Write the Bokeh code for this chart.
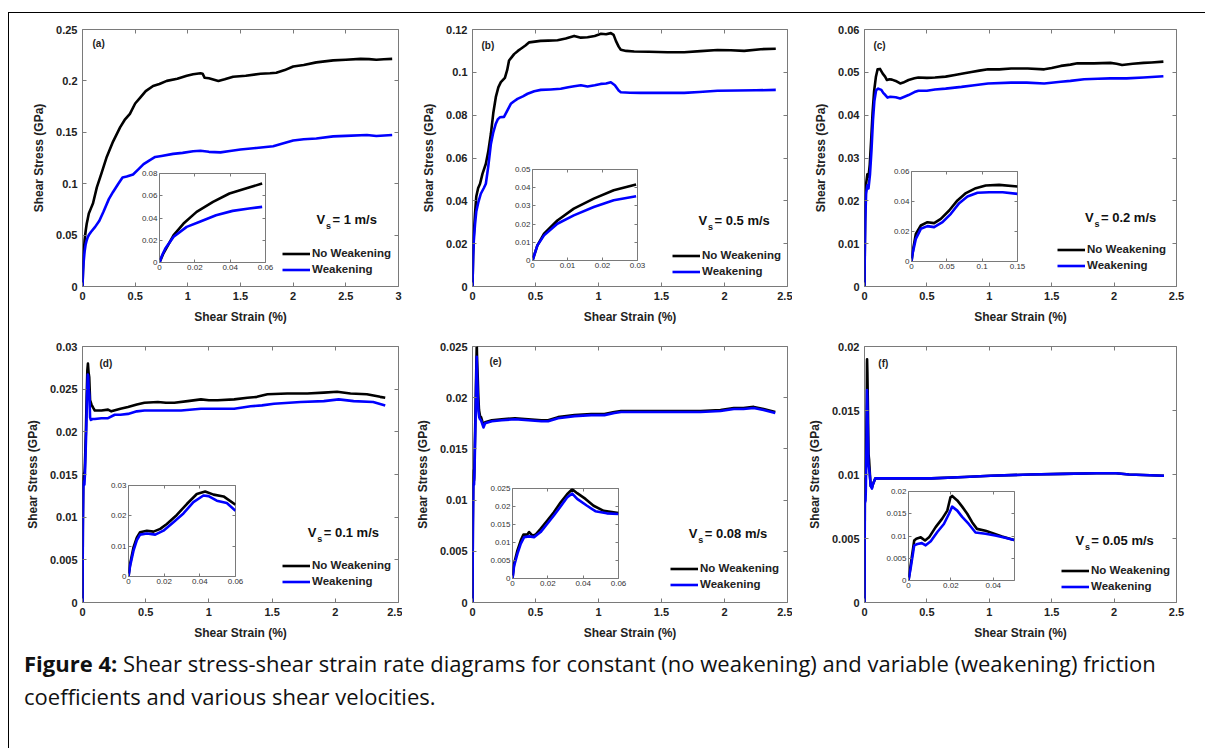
from bokeh.plotting import figure
from bokeh.models import (GridBox, Div, Range1d, FixedTicker, LinearAxis,
                          CustomJSTickFormatter, Legend, LegendItem, Label)
from bokeh.embed import file_html
from bokeh.resources import INLINE

# ---------------- data ----------------
A_NW_X = [0, 0.005, 0.01, 0.02, 0.03, 0.04, 0.05, 0.06, 0.08, 0.1, 0.136, 0.18, 0.23, 0.29, 0.358, 0.4, 0.45, 0.5, 0.55, 0.6, 0.67, 0.73, 0.8, 0.9, 0.99, 1.05, 1.12, 1.14, 1.16, 1.2, 1.29, 1.35, 1.43, 1.55, 1.69, 1.78, 1.84, 1.92, 2.0, 2.1, 2.22, 2.3, 2.38, 2.5, 2.64, 2.72, 2.79, 2.86, 2.94]
A_NW_Y = [0, 0.017, 0.03, 0.045, 0.054, 0.061, 0.066, 0.071, 0.076, 0.081, 0.0964, 0.11, 0.126, 0.141, 0.155, 0.162, 0.168, 0.178, 0.184, 0.19, 0.195, 0.197, 0.2, 0.202, 0.205, 0.2065, 0.2075, 0.207, 0.203, 0.2025, 0.2, 0.2015, 0.204, 0.205, 0.207, 0.2075, 0.208, 0.2105, 0.214, 0.2155, 0.218, 0.219, 0.22, 0.2205, 0.2214, 0.2212, 0.2205, 0.221, 0.2214]
A_W_X = [0, 0.005, 0.01, 0.02, 0.03, 0.04, 0.05, 0.06, 0.08, 0.12, 0.16, 0.2, 0.25, 0.29, 0.34, 0.38, 0.42, 0.48, 0.53, 0.58, 0.64, 0.69, 0.75, 0.86, 0.95, 1.05, 1.12, 1.2, 1.31, 1.4, 1.5, 1.65, 1.81, 1.9, 2.0, 2.1, 2.22, 2.38, 2.5, 2.7, 2.79, 2.94]
A_W_Y = [0, 0.014, 0.023, 0.034, 0.041, 0.045, 0.048, 0.05, 0.053, 0.058, 0.064, 0.073, 0.085, 0.092, 0.1, 0.106, 0.107, 0.109, 0.114, 0.119, 0.123, 0.126, 0.127, 0.129, 0.13, 0.1315, 0.132, 0.131, 0.1305, 0.1318, 0.1332, 0.1348, 0.1365, 0.139, 0.142, 0.1433, 0.144, 0.146, 0.1465, 0.1474, 0.1464, 0.1474]
AI_NW_X = [0, 0.002, 0.0043, 0.008, 0.0136, 0.021, 0.0303, 0.0396, 0.0488, 0.0581]
AI_NW_Y = [0, 0.0075, 0.0141, 0.0246, 0.035, 0.0455, 0.0545, 0.062, 0.0665, 0.071]
AI_W_X = [0, 0.0015, 0.0033, 0.008, 0.0154, 0.0228, 0.032, 0.0414, 0.0507, 0.0581]
AI_W_Y = [0, 0.0065, 0.0126, 0.0231, 0.032, 0.0366, 0.0425, 0.0464, 0.0485, 0.05]

B_NW_X = [0, 0.005, 0.01, 0.02, 0.03, 0.045, 0.06, 0.079, 0.106, 0.125, 0.146, 0.165, 0.185, 0.205, 0.225, 0.257, 0.275, 0.29, 0.31, 0.33, 0.36, 0.384, 0.42, 0.45, 0.54, 0.6, 0.675, 0.74, 0.807, 0.86, 0.913, 0.97, 1.02, 1.06, 1.098, 1.12, 1.138, 1.16, 1.177, 1.22, 1.283, 1.4, 1.548, 1.68, 1.81, 1.944, 2.05, 2.156, 2.288, 2.407]
B_NW_Y = [0, 0.015, 0.024, 0.034, 0.042, 0.046, 0.048, 0.0526, 0.0573, 0.063, 0.0713, 0.081, 0.0884, 0.093, 0.0954, 0.0974, 0.101, 0.1055, 0.107, 0.1085, 0.11, 0.111, 0.1125, 0.114, 0.1147, 0.1148, 0.115, 0.1158, 0.117, 0.1162, 0.1164, 0.117, 0.118, 0.1178, 0.1183, 0.1175, 0.1147, 0.112, 0.1105, 0.11, 0.1097, 0.1096, 0.1094, 0.1094, 0.1099, 0.1104, 0.1103, 0.11, 0.1108, 0.111]
B_W_X = [0, 0.005, 0.01, 0.02, 0.03, 0.045, 0.066, 0.09, 0.106, 0.125, 0.146, 0.165, 0.185, 0.2, 0.217, 0.25, 0.275, 0.304, 0.33, 0.357, 0.4, 0.437, 0.49, 0.542, 0.62, 0.7, 0.76, 0.807, 0.86, 0.913, 0.97, 1.018, 1.06, 1.098, 1.13, 1.16, 1.177, 1.25, 1.336, 1.5, 1.68, 1.8, 1.944, 2.1, 2.25, 2.407]
B_W_Y = [0, 0.014, 0.021, 0.029, 0.035, 0.039, 0.0433, 0.046, 0.048, 0.056, 0.0666, 0.072, 0.076, 0.078, 0.079, 0.0792, 0.082, 0.0853, 0.0865, 0.0876, 0.0888, 0.09, 0.0912, 0.0918, 0.092, 0.0923, 0.093, 0.0935, 0.094, 0.0934, 0.094, 0.0946, 0.0948, 0.0954, 0.094, 0.0915, 0.0907, 0.0905, 0.0904, 0.0904, 0.0904, 0.0908, 0.0914, 0.0915, 0.0916, 0.0918]
BI_NW_X = [0, 0.0014, 0.0033, 0.0071, 0.0118, 0.0175, 0.0232, 0.0296]
BI_NW_Y = [0, 0.0083, 0.0147, 0.022, 0.0285, 0.034, 0.0386, 0.0417]
BI_W_X = [0, 0.0014, 0.0033, 0.0071, 0.0118, 0.0175, 0.0232, 0.0296]
BI_W_Y = [0, 0.0083, 0.0138, 0.0202, 0.0248, 0.0294, 0.0331, 0.0353]

C_NW_X = [0, 0.003, 0.006, 0.013, 0.023, 0.032, 0.042, 0.053, 0.065, 0.077, 0.091, 0.105, 0.124, 0.146, 0.165, 0.18, 0.2, 0.22, 0.25, 0.286, 0.31, 0.353, 0.4, 0.432, 0.5, 0.565, 0.65, 0.724, 0.8, 0.857, 0.92, 0.99, 1.08, 1.175, 1.308, 1.44, 1.5, 1.573, 1.65, 1.706, 1.838, 1.97, 2.02, 2.064, 2.15, 2.236, 2.3, 2.395]
C_NW_Y = [0, 0.011, 0.0184, 0.024, 0.0262, 0.0256, 0.0284, 0.034, 0.0407, 0.0456, 0.0489, 0.0507, 0.0508, 0.0497, 0.049, 0.0482, 0.0484, 0.0483, 0.048, 0.0474, 0.0476, 0.0482, 0.0486, 0.0488, 0.0487, 0.0488, 0.049, 0.0494, 0.0498, 0.0501, 0.0504, 0.0507, 0.0507, 0.0509, 0.0509, 0.0507, 0.051, 0.0515, 0.0518, 0.0521, 0.0521, 0.0522, 0.052, 0.0517, 0.052, 0.0522, 0.0523, 0.0525]
C_W_X = [0, 0.0014, 0.006, 0.013, 0.023, 0.032, 0.044, 0.056, 0.068, 0.079, 0.093, 0.11, 0.135, 0.15, 0.167, 0.185, 0.207, 0.25, 0.286, 0.32, 0.353, 0.4, 0.432, 0.5, 0.565, 0.65, 0.777, 0.88, 0.99, 1.175, 1.3, 1.44, 1.573, 1.65, 1.76, 1.87, 1.97, 2.1, 2.236, 2.3, 2.395]
C_W_Y = [0, 0.0051, 0.0151, 0.0218, 0.0236, 0.0229, 0.0262, 0.0318, 0.0389, 0.0433, 0.0458, 0.0462, 0.0459, 0.0452, 0.0447, 0.0441, 0.0443, 0.0442, 0.0439, 0.0443, 0.0447, 0.0454, 0.0457, 0.0457, 0.046, 0.0462, 0.0466, 0.047, 0.0474, 0.0476, 0.0476, 0.0474, 0.0478, 0.048, 0.0484, 0.0485, 0.0486, 0.0486, 0.0488, 0.0489, 0.0491]
CI_NW_X = [0, 0.0024, 0.0061, 0.0132, 0.0226, 0.032, 0.0415, 0.0533, 0.065, 0.077, 0.091, 0.105, 0.124, 0.15]
CI_NW_Y = [0, 0.0084, 0.0184, 0.024, 0.0262, 0.0256, 0.0284, 0.034, 0.0407, 0.0456, 0.0489, 0.0507, 0.0511, 0.05]
CI_W_X = [0, 0.0014, 0.0061, 0.0132, 0.0226, 0.032, 0.0439, 0.0557, 0.0675, 0.0792, 0.0934, 0.11, 0.129, 0.15]
CI_W_Y = [0, 0.0051, 0.0151, 0.0218, 0.0236, 0.0229, 0.0262, 0.0318, 0.0389, 0.0433, 0.0458, 0.0462, 0.0462, 0.0451]

D_NW_X = [0, 0.0028, 0.0065, 0.0103, 0.014, 0.0178, 0.0215, 0.0271, 0.0327, 0.0383, 0.043, 0.0477, 0.0533, 0.06, 0.071, 0.085, 0.097, 0.15, 0.202, 0.228, 0.3, 0.36, 0.43, 0.49, 0.596, 0.66, 0.727, 0.832, 0.937, 1.0, 1.069, 1.2, 1.305, 1.38, 1.463, 1.62, 1.778, 1.909, 2.014, 2.12, 2.25, 2.355, 2.395]
D_NW_Y = [0, 0.0096, 0.0146, 0.0151, 0.0148, 0.0157, 0.0173, 0.0203, 0.0239, 0.0272, 0.028, 0.027, 0.0264, 0.0237, 0.0232, 0.0228, 0.0225, 0.0225, 0.0226, 0.0224, 0.0227, 0.0229, 0.0232, 0.0234, 0.0235, 0.0234, 0.0234, 0.0236, 0.0238, 0.0237, 0.0237, 0.0238, 0.024, 0.0241, 0.0244, 0.0245, 0.0245, 0.0246, 0.0247, 0.0245, 0.0244, 0.0241, 0.024]
D_W_X = [0, 0.0028, 0.0065, 0.0103, 0.015, 0.0196, 0.0252, 0.0308, 0.0364, 0.042, 0.0449, 0.0495, 0.0551, 0.06, 0.066, 0.08, 0.097, 0.15, 0.202, 0.255, 0.3, 0.36, 0.43, 0.49, 0.622, 0.78, 0.937, 1.2, 1.33, 1.42, 1.515, 1.725, 1.909, 2.027, 2.145, 2.3, 2.395]
D_W_Y = [0, 0.0085, 0.0138, 0.0142, 0.0138, 0.0151, 0.0179, 0.0208, 0.0245, 0.0267, 0.0265, 0.025, 0.0242, 0.0217, 0.0214, 0.0215, 0.0215, 0.0216, 0.0216, 0.022, 0.022, 0.0221, 0.0224, 0.0225, 0.0225, 0.0225, 0.0227, 0.0227, 0.023, 0.0231, 0.0233, 0.0235, 0.0236, 0.0238, 0.0236, 0.0235, 0.0231]
DI_NW_X = [0, 0.0009, 0.0028, 0.0047, 0.0065, 0.0103, 0.014, 0.0178, 0.0215, 0.0271, 0.0327, 0.0383, 0.043, 0.0477, 0.0533, 0.06]
DI_NW_Y = [0, 0.0041, 0.0096, 0.0129, 0.0146, 0.0151, 0.0148, 0.0157, 0.0173, 0.0203, 0.0239, 0.0272, 0.028, 0.027, 0.0264, 0.0237]
DI_W_X = [0, 0.0009, 0.0028, 0.0047, 0.0065, 0.0103, 0.015, 0.0196, 0.0252, 0.0308, 0.0364, 0.042, 0.0449, 0.0495, 0.0551, 0.06]
DI_W_Y = [0, 0.0035, 0.0085, 0.012, 0.0138, 0.0142, 0.0138, 0.0151, 0.0179, 0.0208, 0.0245, 0.0267, 0.0265, 0.025, 0.0242, 0.0217]

E_NW_X = [0, 0.0028, 0.0062, 0.0094, 0.0113, 0.0131, 0.0159, 0.0197, 0.0234, 0.0272, 0.0309, 0.0338, 0.0366, 0.0413, 0.0459, 0.0516, 0.06, 0.068, 0.087, 0.1, 0.153, 0.232, 0.337, 0.442, 0.547, 0.6, 0.679, 0.81, 0.942, 1.047, 1.126, 1.179, 1.25, 1.337, 1.468, 1.626, 1.81, 1.968, 2.074, 2.15, 2.232, 2.31, 2.403]
E_NW_Y = [0, 0.0078, 0.0122, 0.0129, 0.0119, 0.0122, 0.0138, 0.0161, 0.0184, 0.0211, 0.0234, 0.0252, 0.0237, 0.0221, 0.0202, 0.0188, 0.0182, 0.0181, 0.0173, 0.0176, 0.0178, 0.0179, 0.018, 0.0179, 0.0178, 0.0178, 0.0181, 0.0183, 0.0184, 0.0184, 0.0186, 0.0187, 0.0187, 0.0187, 0.0187, 0.0187, 0.0187, 0.0188, 0.019, 0.019, 0.0191, 0.0189, 0.0186]
E_W_X = [0, 0.0028, 0.0066, 0.0094, 0.0122, 0.0159, 0.0197, 0.0234, 0.0272, 0.0309, 0.0338, 0.0366, 0.0422, 0.0469, 0.0534, 0.06, 0.068, 0.087, 0.1, 0.153, 0.232, 0.337, 0.442, 0.547, 0.6, 0.679, 0.81, 0.942, 1.047, 1.126, 1.179, 1.25, 1.337, 1.468, 1.626, 1.81, 1.968, 2.074, 2.15, 2.232, 2.31, 2.403]
E_W_Y = [0, 0.0069, 0.0115, 0.0117, 0.0115, 0.0129, 0.0152, 0.0175, 0.02, 0.0225, 0.024, 0.0221, 0.0202, 0.0187, 0.0181, 0.0179, 0.0178, 0.0171, 0.0175, 0.0177, 0.0178, 0.0179, 0.0178, 0.0177, 0.0177, 0.018, 0.0182, 0.0183, 0.0183, 0.0185, 0.0186, 0.0186, 0.0186, 0.0186, 0.0186, 0.0186, 0.0187, 0.0189, 0.0189, 0.019, 0.0188, 0.0185]
EI_NW_X = [0, 0.0009, 0.0028, 0.0047, 0.0062, 0.0084, 0.0094, 0.0113, 0.0131, 0.0159, 0.0197, 0.0234, 0.0272, 0.0309, 0.0338, 0.0366, 0.0413, 0.0459, 0.0516, 0.06]
EI_NW_Y = [0, 0.0041, 0.0078, 0.0106, 0.0122, 0.0122, 0.0129, 0.0119, 0.0122, 0.0138, 0.0161, 0.0184, 0.0211, 0.0234, 0.0248, 0.0237, 0.0221, 0.0202, 0.0188, 0.0182]
EI_W_X = [0, 0.0009, 0.0028, 0.0047, 0.0066, 0.0094, 0.0122, 0.0159, 0.0197, 0.0234, 0.0272, 0.0309, 0.0338, 0.0366, 0.0422, 0.0469, 0.0534, 0.06]
EI_W_Y = [0, 0.0035, 0.0069, 0.0097, 0.0115, 0.0117, 0.0115, 0.0129, 0.0152, 0.0175, 0.02, 0.0225, 0.0236, 0.0221, 0.0202, 0.0187, 0.0181, 0.0179]

F_NW_X = [0, 0.0011, 0.0027, 0.0037, 0.0058, 0.0078, 0.0097, 0.0128, 0.0159, 0.0183, 0.0198, 0.0206, 0.023, 0.0253, 0.0277, 0.03, 0.0323, 0.0363, 0.0394, 0.0441, 0.0498, 0.06, 0.074, 0.087, 0.114, 0.272, 0.536, 0.8, 1.01, 1.33, 1.59, 1.86, 2.016, 2.12, 2.4]
F_NW_Y = [0, 0.0037, 0.009, 0.0094, 0.0097, 0.009, 0.0097, 0.012, 0.0139, 0.0157, 0.0187, 0.019, 0.018, 0.0166, 0.015, 0.0131, 0.0116, 0.0112, 0.0107, 0.0099, 0.0091, 0.009, 0.0094, 0.0097, 0.0097, 0.0097, 0.0097, 0.0098, 0.0099, 0.01, 0.01005, 0.0101, 0.0101, 0.01, 0.0099]
F_W_X = [0, 0.0011, 0.0027, 0.0042, 0.0063, 0.0081, 0.0105, 0.0136, 0.0167, 0.0191, 0.0206, 0.023, 0.0253, 0.0284, 0.0316, 0.0363, 0.0409, 0.0456, 0.0498, 0.06, 0.066, 0.087, 0.114, 0.272, 0.536, 0.8, 1.01, 1.33, 1.59, 1.86, 2.016, 2.12, 2.4]
F_W_Y = [0, 0.003, 0.0079, 0.0082, 0.0084, 0.0079, 0.0088, 0.0109, 0.0127, 0.015, 0.0166, 0.0157, 0.0143, 0.0127, 0.0108, 0.0105, 0.0101, 0.0096, 0.0091, 0.0089, 0.0092, 0.0097, 0.0097, 0.0097, 0.0097, 0.0098, 0.0099, 0.01, 0.01005, 0.0101, 0.0101, 0.01, 0.0099]
FI_NW_X = [0, 0.0011, 0.0027, 0.0037, 0.0058, 0.0078, 0.0097, 0.0128, 0.0159, 0.0183, 0.0198, 0.0206, 0.023, 0.0253, 0.0277, 0.03, 0.0323, 0.0363, 0.0394, 0.0441, 0.0498]
FI_NW_Y = [0, 0.0037, 0.009, 0.0094, 0.0097, 0.009, 0.0097, 0.012, 0.0139, 0.0157, 0.0187, 0.019, 0.018, 0.0166, 0.015, 0.0131, 0.0116, 0.0112, 0.0107, 0.0099, 0.0091]
FI_W_X = [0, 0.0011, 0.0027, 0.0042, 0.0063, 0.0081, 0.0105, 0.0136, 0.0167, 0.0191, 0.0206, 0.023, 0.0253, 0.0284, 0.0316, 0.0363, 0.0409, 0.0456, 0.0498]
FI_W_Y = [0, 0.003, 0.0079, 0.0082, 0.0084, 0.0079, 0.0088, 0.0109, 0.0127, 0.015, 0.0166, 0.0157, 0.0143, 0.0127, 0.0108, 0.0105, 0.0101, 0.0096, 0.0091]

# axis ticks
X_TICKS_A = [0, 0.5, 1, 1.5, 2, 2.5, 3]
X_TICKS = [0, 0.5, 1, 1.5, 2, 2.5]
Y_TICKS_A = [0, 0.05, 0.1, 0.15, 0.2, 0.25]
Y_TICKS_B = [0, 0.02, 0.04, 0.06, 0.08, 0.1, 0.12]
Y_TICKS_C = [0, 0.01, 0.02, 0.03, 0.04, 0.05, 0.06]
Y_TICKS_D = [0, 0.005, 0.01, 0.015, 0.02, 0.025, 0.03]
Y_TICKS_E = [0, 0.005, 0.01, 0.015, 0.02, 0.025]
Y_TICKS_F = [0, 0.005, 0.01, 0.015, 0.02]
IX_TICKS_A = [0, 0.02, 0.04, 0.06]
IY_TICKS_A = [0, 0.02, 0.04, 0.06, 0.08]
IX_TICKS_B = [0, 0.01, 0.02, 0.03]
IY_TICKS_B = [0, 0.01, 0.02, 0.03, 0.04, 0.05]
IX_TICKS_C = [0, 0.05, 0.1, 0.15]
IY_TICKS_C = [0, 0.02, 0.04, 0.06]
IX_TICKS_D = [0, 0.02, 0.04, 0.06]
IY_TICKS_D = [0, 0.01, 0.02, 0.03]
IX_TICKS_E = [0, 0.02, 0.04, 0.06]
IY_TICKS_E = [0, 0.005, 0.01, 0.015, 0.02, 0.025]
IX_TICKS_F = [0, 0.02, 0.04]
IY_TICKS_F = [0, 0.005, 0.01, 0.015, 0.02]

PANEL_TAGS = ["(a)", "(b)", "(c)", "(d)", "(e)", "(f)"]
VS_TEXT = ["= 1 m/s", "= 0.5 m/s", "= 0.2 m/s", "= 0.1 m/s", "= 0.08 m/s", "= 0.05 m/s"]
SERIES = ["No Weakening", "Weakening"]
X_LABEL = "Shear Strain (%)"
Y_LABEL = "Shear Stress (GPa)"
CAPTION_BOLD = "Figure 4:"
CAPTION_LINE1 = "Shear stress-shear strain rate diagrams for constant (no weakening) and variable (weakening) friction"
CAPTION_LINE2 = "coefficients and various shear velocities."

# ---------------- layout geometry (page pixels) ----------------
FONT = "Liberation Sans"
TXT = "#222222"
FRAME = "#7a7a7a"
BLACK = "#000000"
BLUE = "#0000ff"

panels = [
    dict(outer=(10, 14, 402, 328), frame=(82, 29, 398, 286), xr=(0, 3), yr=(0, 0.25),
         xt=X_TICKS_A, yt=Y_TICKS_A, nw=(A_NW_X, A_NW_Y), w=(A_W_X, A_W_Y),
         inset=(159, 173, 265, 262), ixr=(0, 0.06), iyr=(0, 0.08), ixt=IX_TICKS_A, iyt=IY_TICKS_A,
         inw=(AI_NW_X, AI_NW_Y), iw=(AI_W_X, AI_W_Y),
         leg=(282, 269), tag=(92, 43), vs=(316, 219)),
    dict(outer=(404, 14, 792, 328), frame=(472, 29, 787, 286), xr=(0, 2.5), yr=(0, 0.12),
         xt=X_TICKS, yt=Y_TICKS_B, nw=(B_NW_X, B_NW_Y), w=(B_W_X, B_W_Y),
         inset=(532, 169, 637, 260), ixr=(0, 0.03), iyr=(0, 0.05), ixt=IX_TICKS_B, iyt=IY_TICKS_B,
         inw=(BI_NW_X, BI_NW_Y), iw=(BI_W_X, BI_W_Y),
         leg=(672, 271), tag=(481, 45), vs=(698, 220)),
    dict(outer=(794, 14, 1196, 328), frame=(864, 29, 1178, 287), xr=(0, 2.5), yr=(0, 0.06),
         xt=X_TICKS, yt=Y_TICKS_C, nw=(C_NW_X, C_NW_Y), w=(C_W_X, C_W_Y),
         inset=(911, 171, 1017, 261), ixr=(0, 0.15), iyr=(0, 0.06), ixt=IX_TICKS_C, iyt=IY_TICKS_C,
         inw=(CI_NW_X, CI_NW_Y), iw=(CI_W_X, CI_W_Y),
         leg=(1057, 266), tag=(873, 45), vs=(1086, 218)),
    dict(outer=(10, 330, 402, 644), frame=(81, 345, 398, 602), xr=(0, 2.5), yr=(0, 0.03),
         xt=X_TICKS, yt=Y_TICKS_D, nw=(D_NW_X, D_NW_Y), w=(D_W_X, D_W_Y),
         inset=(128, 485, 235, 576), ixr=(0, 0.06), iyr=(0, 0.03), ixt=IX_TICKS_D, iyt=IY_TICKS_D,
         inw=(DI_NW_X, DI_NW_Y), iw=(DI_W_X, DI_W_Y),
         leg=(281, 581), tag=(98, 362), vs=(307, 532)),
    dict(outer=(404, 330, 792, 644), frame=(471, 346, 787, 603), xr=(0, 2.5), yr=(0, 0.025),
         xt=X_TICKS, yt=Y_TICKS_E, nw=(E_NW_X, E_NW_Y), w=(E_W_X, E_W_Y),
         inset=(512, 488, 618, 578), ixr=(0, 0.06), iyr=(0, 0.025), ixt=IX_TICKS_E, iyt=IY_TICKS_E,
         inw=(EI_NW_X, EI_NW_Y), iw=(EI_W_X, EI_W_Y),
         leg=(669, 585), tag=(488, 361), vs=(688, 534)),
    dict(outer=(794, 330, 1196, 644), frame=(861, 345, 1176, 602), xr=(0, 2.5), yr=(0, 0.02),
         xt=X_TICKS, yt=Y_TICKS_F, nw=(F_NW_X, F_NW_Y), w=(F_W_X, F_W_Y),
         inset=(908, 491, 1014, 580), ixr=(0, 0.05), iyr=(0, 0.02), ixt=IX_TICKS_F, iyt=IY_TICKS_F,
         inw=(FI_NW_X, FI_NW_Y), iw=(FI_W_X, FI_W_Y),
         leg=(1058, 586), tag=(875, 362), vs=(1074, 540)),
]

NUM_FMT = "return String(parseFloat(tick.toFixed(6)));"


def px_to_data(frame, xr, yr, px, py):
    l, t, r, b = frame
    x = xr[0] + (px - l) / (r - l) * (xr[1] - xr[0])
    y = yr[0] + (b - py) / (b - t) * (yr[1] - yr[0])
    return x, y


def style_axis(ax, size, bold, tick_len, standoff):
    ax.axis_line_color = None
    ax.major_tick_in = tick_len
    ax.major_tick_out = 0
    ax.major_tick_line_color = FRAME
    ax.minor_tick_line_color = None
    ax.major_label_text_font = FONT
    ax.major_label_text_font_size = size
    ax.major_label_text_font_style = "bold" if bold else "normal"
    ax.major_label_text_color = TXT if bold else "#333333"
    ax.major_label_standoff = standoff


def make_fig(outer, frame, xr, yr, xt, yt, size, bold, tick_len, standoff, transparent=False):
    L, T, R, B = outer
    l, t, r, b = frame
    p = figure(width=R - L, height=B - T, x_range=Range1d(*xr), y_range=Range1d(*yr),
               output_backend="svg", toolbar_location=None, title=None,
               min_border_left=l - L, min_border_right=R - r,
               min_border_top=t - T, min_border_bottom=B - b)
    p.grid.visible = False
    p.outline_line_color = FRAME
    p.outline_line_width = 1
    p.background_fill_color = "white"
    if transparent:
        p.border_fill_alpha = 0
    else:
        p.border_fill_color = "white"
    bx = p.below[0]
    ly = p.left[0]
    bx.ticker = FixedTicker(ticks=xt)
    ly.ticker = FixedTicker(ticks=yt)
    bx.formatter = CustomJSTickFormatter(code=NUM_FMT)
    ly.formatter = CustomJSTickFormatter(code=NUM_FMT)
    style_axis(bx, size, bold, tick_len, standoff)
    style_axis(ly, size, bold, tick_len, standoff)
    for ticks, place in ((xt, "above"), (yt, "right")):
        ax = LinearAxis(ticker=FixedTicker(ticks=ticks),
                        formatter=CustomJSTickFormatter(code="return '';"))
        style_axis(ax, "1px", False, tick_len, 0)
        p.add_layout(ax, place)
    return p, bx, ly


items = []  # (model, x0, y0, x1, y1) in page pixels
insets = []

for i, pn in enumerate(panels):
    p, bx, ly = make_fig(pn["outer"], pn["frame"], pn["xr"], pn["yr"], pn["xt"], pn["yt"],
                         "11px", True, 4, 5)
    for ax, lab in ((bx, X_LABEL), (ly, Y_LABEL)):
        ax.axis_label = lab
        ax.axis_label_text_font = FONT
        ax.axis_label_text_font_size = "12px"
        ax.axis_label_text_font_style = "bold"
        ax.axis_label_text_color = TXT
        ax.axis_label_standoff = 7
    r_nw = p.line(pn["nw"][0], pn["nw"][1], line_color=BLACK, line_width=2.6, line_join="round")
    r_w = p.line(pn["w"][0], pn["w"][1], line_color=BLUE, line_width=2.6, line_join="round")

    l, t, r, b = pn["frame"]
    lx, ly2 = pn["leg"]
    legend = Legend(items=[LegendItem(label=SERIES[0], renderers=[r_nw]),
                           LegendItem(label=SERIES[1], renderers=[r_w])],
                    location=(lx - l, b - (ly2 + 7.5)),
                    glyph_width=28, glyph_height=15, label_height=15, spacing=1,
                    label_standoff=2, padding=0, margin=0,
                    border_line_alpha=0, background_fill_alpha=0,
                    label_text_font=FONT, label_text_font_size="11.5px",
                    label_text_font_style="bold", label_text_color=TXT)
    p.add_layout(legend)

    tx, ty = px_to_data(pn["frame"], pn["xr"], pn["yr"], *pn["tag"])
    p.add_layout(Label(x=tx, y=ty, text=PANEL_TAGS[i], text_font=FONT, text_font_size="10px",
                       text_font_style="bold", text_color=TXT, text_baseline="middle",
                       text_align="left"))
    vx, vy = pn["vs"]
    for dxp, dyp, txt, fs in ((0, 0, "V", "13px"), (9.5, 6, "s", "9px"), (16, 0, VS_TEXT[i], "13px")):
        x, y = px_to_data(pn["frame"], pn["xr"], pn["yr"], vx + dxp, vy + dyp)
        p.add_layout(Label(x=x, y=y, text=txt, text_font=FONT, text_font_size=fs,
                           text_font_style="bold", text_color="#111111",
                           text_baseline="middle", text_align="left"))
    items.append((p,) + pn["outer"])

    il, it, ir, ib = pn["inset"]
    iouter = (il - 26, it - 6, ir + 12, ib + 16)
    q, _, _ = make_fig(iouter, pn["inset"], pn["ixr"], pn["iyr"], pn["ixt"], pn["iyt"],
                       "8px", False, 3, 2, transparent=True)
    q.line(pn["inw"][0], pn["inw"][1], line_color=BLACK, line_width=2.6, line_join="round")
    q.line(pn["iw"][0], pn["iw"][1], line_color=BLUE, line_width=2.6, line_join="round")
    insets.append((q,) + iouter)

# outer border (top and left edges only visible) and caption
frame_box = Div(text="", width=1197, height=736, margin=0,
                styles={"border-top": "1px solid #000", "border-left": "1px solid #000",
                        "box-sizing": "border-box"})
caption = Div(
    text=('<div style="font-family:\'Open Sans\',sans-serif;font-size:22px;line-height:33px;'
          'color:#111;white-space:nowrap">'
          f'<b>{CAPTION_BOLD}</b> {CAPTION_LINE1}<br>{CAPTION_LINE2}</div>'),
    width=1170, height=80, margin=0)

items = [(frame_box, 8, 12, 1205, 748)] + items + insets + [(caption, 24, 647, 1194, 727)]

# convert to a CSS grid (page coordinates; the page has no body margin)
xs = sorted({0} | {it[1] for it in items} | {it[3] for it in items})
ys = sorted({0} | {it[2] for it in items} | {it[4] for it in items})
cols = [f"{xs[k + 1] - xs[k]}px" for k in range(len(xs) - 1)]
rows = [f"{ys[k + 1] - ys[k]}px" for k in range(len(ys) - 1)]
children = []
for m, x0, y0, x1, y1 in items:
    c0, c1 = xs.index(x0), xs.index(x1)
    r0, r1 = ys.index(y0), ys.index(y1)
    children.append((m, r0, c0, r1 - r0, c1 - c0))

grid = GridBox(children=children, rows=rows, cols=cols, spacing=0)

open("out.html", "w").write(file_html(grid, INLINE))
